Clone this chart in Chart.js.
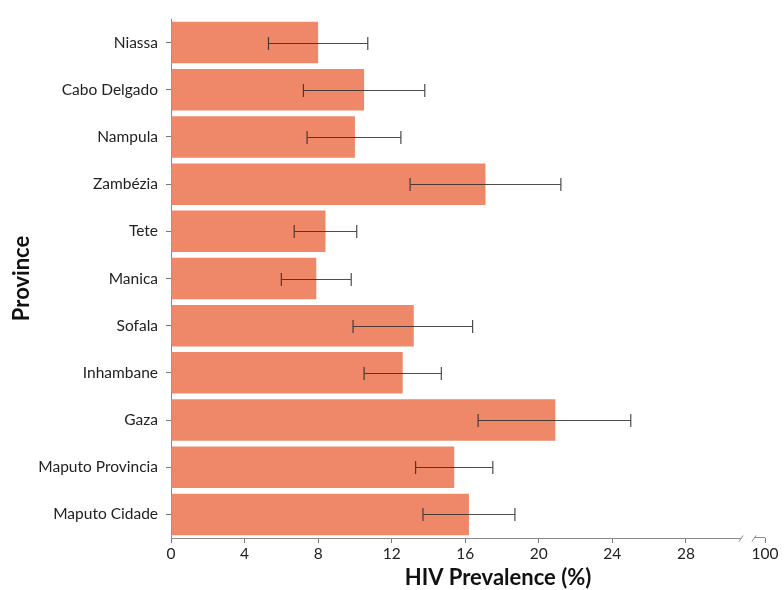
<!DOCTYPE html>
<html>
<head>
<meta charset="utf-8">
<script src="https://cdn.jsdelivr.net/npm/chart.js@4.4.1/dist/chart.umd.min.js"></script>
<style>
  html, body { margin: 0; padding: 0; background: #fff; }
  #wrap { width: 784px; height: 590px; }
</style>
</head>
<body>
<div id="wrap"><canvas id="graficoHiv"></canvas></div>
<script>
// dados
var provincias = ["Niassa", "Cabo Delgado", "Nampula", "Zambézia", "Tete", "Manica",
  "Sofala", "Inhambane", "Gaza", "Maputo Provincia", "Maputo Cidade"];
var prevalencia = [8.0, 10.5, 10.0, 17.1, 8.4, 7.9, 13.2, 12.6, 20.9, 15.4, 16.2];
var erroMin = [5.3, 7.2, 7.4, 13.0, 6.7, 6.0, 9.9, 10.5, 16.7, 13.3, 13.7];
var erroMax = [10.7, 13.8, 12.5, 21.2, 10.1, 9.8, 16.4, 14.7, 25.0, 17.5, 18.7];
var ticksX = [0, 4, 8, 12, 16, 20, 24, 28];
var rotuloQuebra = "100";

// eixo quebrado: o "100" fica no fim do eixo
var fimEixo = 32.3;
var quebra1 = 31.0;
var quebra2 = 31.7;

var fonte = "Lato, 'Open Sans', sans-serif";

var barrasDeErro = {
  id: "barrasDeErro",
  afterDatasetsDraw: function (chart) {
    var x = chart.scales.x, y = chart.scales.y, ctx = chart.ctx;
    ctx.save();
    ctx.strokeStyle = "rgba(45,45,45,0.85)";
    ctx.lineWidth = 1.2;
    for (var i = 0; i < provincias.length; i++) {
      var py = Math.round(y.getPixelForValue(i)) + 0.5;
      var x1 = x.getPixelForValue(erroMin[i]);
      var x2 = x.getPixelForValue(erroMax[i]);
      ctx.beginPath();
      ctx.moveTo(x1, py); ctx.lineTo(x2, py);
      ctx.moveTo(x1, py - 6.5); ctx.lineTo(x1, py + 6.5);
      ctx.moveTo(x2, py - 6.5); ctx.lineTo(x2, py + 6.5);
      ctx.stroke();
    }
    ctx.restore();
  }
};

var eixoQuebrado = {
  id: "eixoQuebrado",
  afterDraw: function (chart) {
    var x = chart.scales.x, ctx = chart.ctx, area = chart.chartArea;
    var py = Math.round(area.bottom) + 0.5;
    var b1 = x.getPixelForValue(quebra1), b2 = x.getPixelForValue(quebra2);
    ctx.save();
    ctx.strokeStyle = "#8a8a8a";
    ctx.lineWidth = 1;
    ctx.beginPath();
    ctx.moveTo(area.left, py); ctx.lineTo(b1, py);
    ctx.moveTo(b1 - 2, py + 3); ctx.lineTo(b1 + 2, py - 3);
    ctx.moveTo(b2 - 2, py + 3); ctx.lineTo(b2 + 2, py - 3);
    ctx.moveTo(b2 + 1, py - 1); ctx.lineTo(area.right, py - 1);
    ctx.stroke();

    // titulo do eixo x
    ctx.fillStyle = "#111";
    ctx.font = "bold 22px " + fonte;
    ctx.textAlign = "center";
    ctx.textBaseline = "middle";
    ctx.fillText("HIV Prevalence (%)", 498, 578);
    ctx.restore();
  }
};

var el = document.getElementById("graficoHiv");
new Chart(el, {
  type: "bar",
  data: {
    labels: provincias,
    datasets: [
      {
        label: "HIV Prevalence",
        data: prevalencia,
        backgroundColor: "#ef8869",
        borderWidth: 0,
        barPercentage: 0.88,
        categoryPercentage: 1.0,
      },
    ],
  },
  options: {
    indexAxis: "y",
    responsive: true,
    maintainAspectRatio: false,
    animation: false,
    layout: { padding: { top: 19, right: 19, left: 0, bottom: 0 } },
    plugins: {
      legend: { display: false },
      tooltip: { enabled: false },
    },
    scales: {
      x: {
        type: "linear",
        min: 0,
        max: fimEixo,
        afterBuildTicks: function (scale) {
          scale.ticks = ticksX.concat([fimEixo]).map(function (v) { return { value: v }; });
        },
        afterFit: function (scale) { scale.height = 52; },
        border: { display: false },
        grid: { display: true, drawOnChartArea: false, drawTicks: true, tickLength: 5, color: "#777" },
        ticks: {
          color: "#222",
          padding: 2,
          font: { family: fonte, size: 15.5 },
          maxRotation: 0,
          callback: function (v) { return v === fimEixo ? rotuloQuebra : v; },
        },
      },
      y: {
        afterFit: function (scale) { scale.width = 171; },
        border: { display: true, color: "#8a8a8a" },
        grid: { display: true, offset: false, drawOnChartArea: false, drawTicks: true, tickLength: 5, color: "#777" },
        ticks: { color: "#222", padding: 8, font: { family: fonte, size: 15.5 } },
        title: {
          display: true,
          text: "Province",
          color: "#111",
          font: { family: fonte, size: 22, weight: "bold" },
          padding: { top: 9, bottom: 0 },
        },
      },
    },
  },
  plugins: [barrasDeErro, eixoQuebrado],
});
</script>
</body>
</html>
